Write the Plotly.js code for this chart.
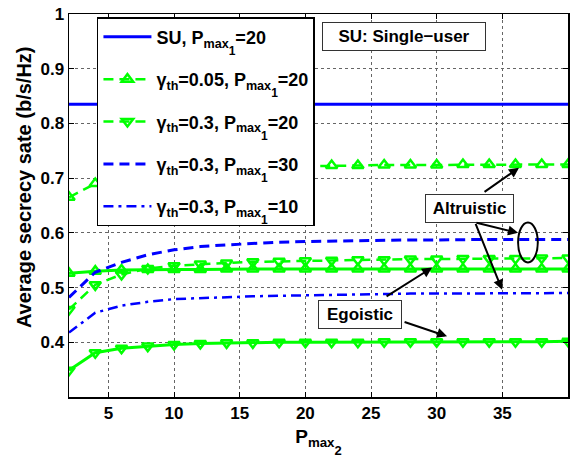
<!DOCTYPE html>
<html>
<head>
<meta charset="utf-8">
<script src="https://cdn.plot.ly/plotly-3.0.1.min.js"></script>
<style>html,body{margin:0;padding:0;background:#fff;}#chart{width:577px;height:460px;}</style>
</head>
<body>
<div id="chart"></div>
<script>
// ---- data ----
const pmax2 = [2,4,6,8,10,12,14,16,18,20,22,24,26,28,30,32,34,36,38,40];
const suP20 = [0.835,0.835,0.835,0.835,0.835,0.835,0.835,0.835,0.835,0.835,0.835,0.835,0.835,0.835,0.835,0.835,0.835,0.835,0.835,0.835];
const altG005P20 = [0.665,0.690,0.703,0.710,0.714,0.717,0.719,0.720,0.721,0.722,0.723,0.723,0.724,0.724,0.724,0.725,0.725,0.725,0.725,0.725];
const altG03P20 = [0.460,0.505,0.524,0.535,0.540,0.543,0.545,0.547,0.548,0.549,0.550,0.551,0.551,0.552,0.552,0.553,0.553,0.553,0.554,0.554];
const altG03P30 = [0.482,0.528,0.546,0.560,0.569,0.575,0.578,0.581,0.583,0.584,0.585,0.586,0.587,0.587,0.587,0.588,0.588,0.588,0.588,0.588];
const altG03P10 = [0.418,0.454,0.467,0.474,0.479,0.481,0.483,0.484,0.485,0.486,0.487,0.488,0.488,0.489,0.489,0.489,0.490,0.490,0.490,0.490];
const egoG005P20 = [0.526,0.530,0.532,0.533,0.533,0.533,0.534,0.534,0.534,0.534,0.534,0.534,0.534,0.534,0.534,0.534,0.534,0.534,0.534,0.534];
const egoG03P20 = [0.349,0.381,0.389,0.393,0.396,0.398,0.399,0.399,0.400,0.400,0.400,0.400,0.401,0.401,0.401,0.401,0.401,0.401,0.401,0.402];

const SUB1 = '<sub>max</sub><span style="font-size:12px;baseline-shift:-11px">1</span>';
const SUB2 = '<sub>max</sub><span style="font-size:13px;baseline-shift:-12px">2</span>';
const names = [
  'SU, P' + SUB1 + '=20',
  '\u03b3<sub>th</sub>=0.05, P' + SUB1 + '=20',
  '\u03b3<sub>th</sub>=0.3, P' + SUB1 + '=20',
  '\u03b3<sub>th</sub>=0.3, P' + SUB1 + '=30',
  '\u03b3<sub>th</sub>=0.3, P' + SUB1 + '=10'
];
const xTitle = 'P' + SUB2;
const yTitle = 'Average secrecy sate (b/s/Hz)';
const xTicks = [5,10,15,20,25,30,35,40];
const yTicks = [0.4,0.5,0.6,0.7,0.8,0.9,1];
const yTickText = ['0.4','0.5','0.6','0.7','0.8','0.9','1'];

const BLUE = '#0000ff', GREEN = '#00ff00';
const DASH = '10px,6px', DASHDOT = '10px,5px,3px,5px';
const upMk = {symbol:'triangle-up-open', size:10, color:GREEN, line:{width:2.5, color:GREEN}};
const dnMk = {symbol:'triangle-down-open', size:10, color:GREEN, line:{width:2.5, color:GREEN}};

const traces = [
  {x:pmax2, y:suP20, name:names[0], mode:'lines', line:{color:BLUE, width:3}, legendgroup:'a'},
  {x:pmax2, y:altG005P20, name:names[1], mode:'lines+markers', line:{color:GREEN, width:2.5, dash:DASH}, marker:upMk, legendgroup:'b'},
  {x:pmax2, y:altG03P20, name:names[2], mode:'lines+markers', line:{color:GREEN, width:2.5, dash:DASH}, marker:dnMk, legendgroup:'c'},
  {x:pmax2, y:egoG005P20, mode:'lines+markers', line:{color:GREEN, width:3}, marker:upMk, showlegend:false},
  {x:pmax2, y:egoG03P20, mode:'lines+markers', line:{color:GREEN, width:3}, marker:dnMk, showlegend:false},
  {x:pmax2, y:altG03P30, name:names[3], mode:'lines', line:{color:BLUE, width:3, dash:DASH}, legendgroup:'d'},
  {x:pmax2, y:altG03P10, name:names[4], mode:'lines', line:{color:BLUE, width:2.5, dash:DASHDOT}, legendgroup:'e'}
];

const F = {family:'Liberation Sans, Arial, sans-serif', color:'#000', weight:700};
const boxFont = Object.assign({}, F, {size:17});

function arrow(x, y, ax, ay) {
  return {x:x, y:y, ax:ax, ay:ay, xref:'x', yref:'y', axref:'x', ayref:'y', text:'', showarrow:true,
          arrowhead:2, arrowsize:1, arrowwidth:2, arrowcolor:'#000', standoff:0, startstandoff:0};
}
function box(x, y, txt, w) {
  return {x:x, y:y, xref:'x', yref:'y', text:txt, showarrow:false, font:boxFont, bgcolor:'#fff',
          bordercolor:'#333', borderwidth:1, borderpad:2, width:w, height:23, align:'center'};
}

const layout = {
  width:577, height:460,
  margin:{l:69, r:9, t:14, b:63},
  paper_bgcolor:'#fff', plot_bgcolor:'#fff',
  font:F,
  showlegend:true,
  legend:{x:0.056, y:0.992, xanchor:'left', yanchor:'top', bgcolor:'#fff', bordercolor:'#000', borderwidth:1.5,
          font:Object.assign({}, F, {size:18}), itemwidth:48, traceorder:'grouped', tracegroupgap:16},
  xaxis:{range:[2,40], tickvals:xTicks, ticks:'inside', ticklen:5, tickwidth:1, tickcolor:'#000',
         showline:true, linecolor:'#000', linewidth:1.5, mirror:'ticks', zeroline:false,
         showgrid:true, gridcolor:'#666', griddash:'dot', gridwidth:1,
         tickfont:Object.assign({}, F, {size:17}),
         title:{text:xTitle, font:Object.assign({}, F, {size:19}), standoff:8}},
  yaxis:{range:[0.3,1], tickvals:yTicks, ticktext:yTickText, ticks:'inside', ticklen:5, tickwidth:1, tickcolor:'#000',
         showline:true, linecolor:'#000', linewidth:1.5, mirror:'ticks', zeroline:false,
         showgrid:true, gridcolor:'#666', griddash:'dot', gridwidth:1,
         tickfont:Object.assign({}, F, {size:17})},
  shapes:[
    {type:'circle', xref:'x', yref:'y', x0:36.2, x1:37.7, y0:0.546, y1:0.619, line:{color:'#000', width:2}}
  ],
  annotations:[
    {xref:'paper', yref:'paper', x:0, y:0.548, xshift:-45, textangle:-90, text:yTitle, showarrow:false,
     font:Object.assign({}, F, {size:20}), xanchor:'center', yanchor:'middle'},
    box(27.5, 0.959, 'SU: Single\u2212user', 158),
    box(32.5, 0.645, 'Altruistic', 83),
    box(24.16, 0.45, 'Egoistic', 78),
    arrow(36.27, 0.719, 33.53, 0.673),
    arrow(36.2, 0.600, 32.92, 0.619),
    arrow(34.98, 0.496, 32.92, 0.619),
    arrow(29.65, 0.5365, 26.07, 0.482),
    arrow(30.79, 0.411, 27.44, 0.438)
  ]
};

Plotly.newPlot('chart', traces, layout, {displayModeBar:false, staticPlot:true});
</script>
</body>
</html>
